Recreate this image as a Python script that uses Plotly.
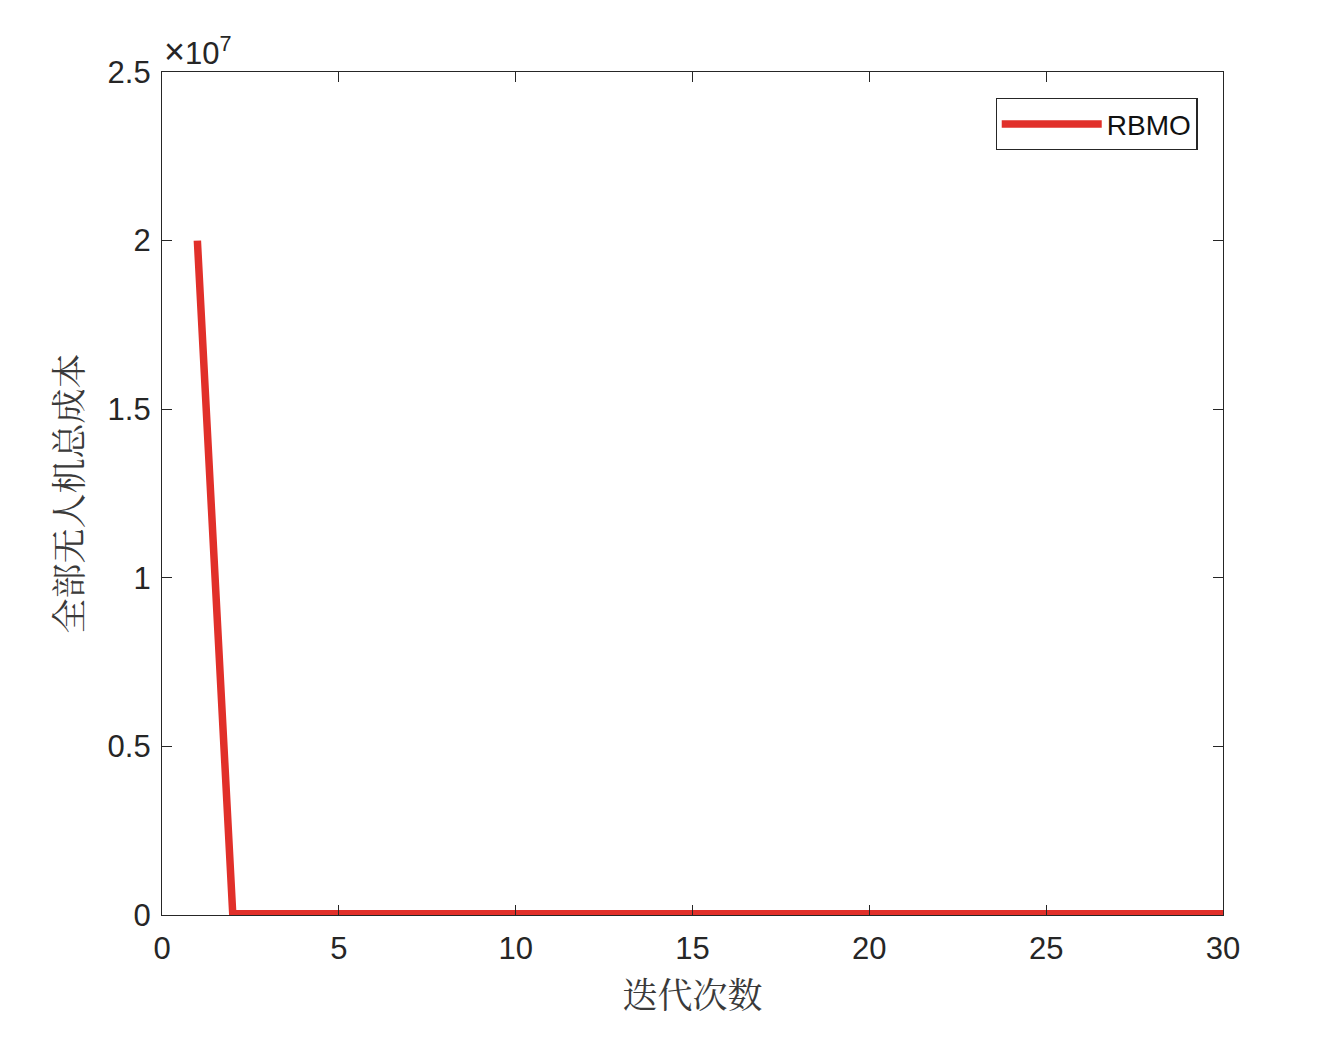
import plotly.graph_objects as go

iterations = list(range(1, 31))
cost = [2.0e7] + [4.0e4] * 29
series_name = "RBMO"
y_tick_vals = [0, 0.5e7, 1.0e7, 1.5e7, 2.0e7, 2.5e7]
y_tick_text = ["0", "0.5", "1", "1.5", "2", "2.5"]
x_tick_vals = [0, 5, 10, 15, 20, 25, 30]

fig = go.Figure()
fig.add_trace(go.Scatter(x=iterations, y=cost, mode="lines", name=series_name,
                         line=dict(color="#E1302A", width=7.5)))

tick_font = dict(family="Liberation Sans, Arial", size=31, color="#262626")
axis_common = dict(showline=True, linecolor="#262626", linewidth=1.2, mirror="ticks",
                   ticks="inside", ticklen=10, tickcolor="#262626", showgrid=False,
                   zeroline=False, tickfont=tick_font)

fig.update_layout(
    width=1328, height=1038,
    paper_bgcolor="white", plot_bgcolor="white",
    margin=dict(l=154, r=113, t=64, b=131),
    showlegend=True,
    legend=dict(x=0.976, y=0.969, xanchor="right", yanchor="top",
                bordercolor="#262626", borderwidth=1.2, bgcolor="white",
                font=dict(family="Liberation Sans, Arial", size=28, color="#111111"),
                itemwidth=100),
    xaxis=dict(range=[0, 30], tickvals=x_tick_vals, ticklabelstandoff=6,
               title=dict(text="迭代次数", font=dict(family="Noto Serif CJK SC, Noto Sans CJK SC", size=35, color="#3a3a3a"), standoff=18),
               **axis_common),
    yaxis=dict(range=[0, 2.5e7], tickvals=y_tick_vals, ticktext=y_tick_text, ticklabelstandoff=4,
               title=dict(text="全部无人机总成本", font=dict(family="Noto Serif CJK SC, Noto Sans CJK SC", size=35, color="#3a3a3a"), standoff=14),
               **axis_common),
)
fig.add_annotation(xref="paper", yref="paper", x=0.0, y=1.0, xanchor="left", yanchor="bottom",
                   text="<span style='font-size:36px'>×</span>10<sup>7</sup>", showarrow=False, yshift=-2,
                   font=dict(family="Liberation Sans, Arial", size=31, color="#262626"))
fig.write_html("out.html")
